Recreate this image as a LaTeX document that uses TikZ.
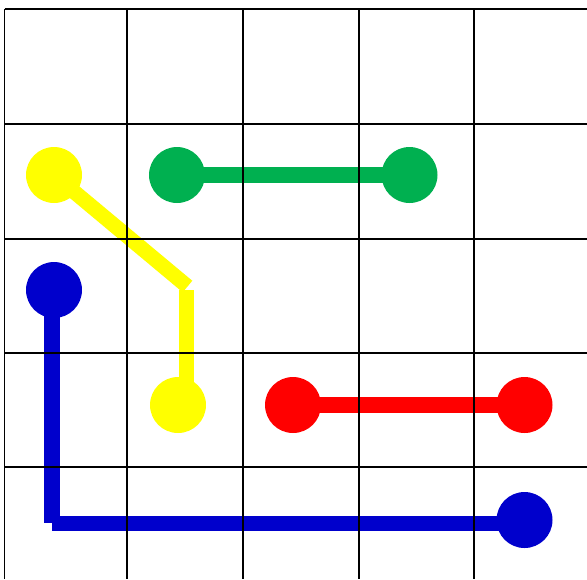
\documentclass[tikz,border=0pt]{standalone}
\usepackage{xcolor}
\usepackage{tikz}
\usetikzlibrary{backgrounds}

\definecolor{flowyellow}{HTML}{FFFF00}
\definecolor{flowgreen}{HTML}{00B050}
\definecolor{flowred}{HTML}{FF0000}
\definecolor{flowblue}{HTML}{0000CC}

\begin{document}
\begin{tikzpicture}[
    x=0.02cm,y=-0.02cm,
    gridline/.style={black,line width=0.04cm},
    dot/.style={circle,inner sep=0pt,minimum size=1.12cm},
    pipe/.style={line width=0.32cm,line cap=butt}
  ]
    \useasboundingbox (0,0) rectangle (587,579);

    % board
    \draw[gridline] (4.5,9) -- (587,9);
    \draw[gridline] (4.5,9) -- (4.5,579);
    \foreach \gx in {127,243,359,474}
      \draw[gridline] (\gx,9) -- (\gx,579);
    \foreach \gy in {124,239,353,467}
      \draw[gridline] (4.5,\gy) -- (587,\gy);

    % end points
    \node[dot,fill=flowyellow] (yA) at (54,175) {};
    \node[dot,fill=flowyellow] (yB) at (178,405) {};
    \node[dot,fill=flowgreen] (gA) at (177,175) {};
    \node[dot,fill=flowgreen] (gB) at (409.5,175) {};
    \node[dot,fill=flowred] (rA) at (293,405) {};
    \node[dot,fill=flowred] (rB) at (524.5,405) {};
    \node[dot,fill=flowblue] (bA) at (54,290) {};
    \node[dot,fill=flowblue] (bB) at (524.5,520) {};

    \coordinate (ykneeA) at (187.5,286.5);
    \coordinate (ykneeB) at (186,290);
    \coordinate (bkneeA) at (52,523);
    \coordinate (bkneeB) at (52.3,523.5);

    % paths behind the dots
    \begin{scope}[on background layer]
      \draw[pipe,flowyellow,line width=0.30cm] (yA.center) -- (ykneeA);
      \draw[pipe,flowyellow,line width=0.30cm] (ykneeB) -- (ykneeB |- yB);
      \draw[pipe,flowgreen] (gA.center) -- (gB.center);
      \draw[pipe,flowred] (rA.center) -- (rB.center);
      \draw[pipe,flowblue] (bkneeA |- bA) -- (bkneeA);
      \draw[pipe,flowblue,line width=0.30cm] (bkneeB) -- (bkneeB -| bB);
    \end{scope}
  \end{tikzpicture}
\end{document}
